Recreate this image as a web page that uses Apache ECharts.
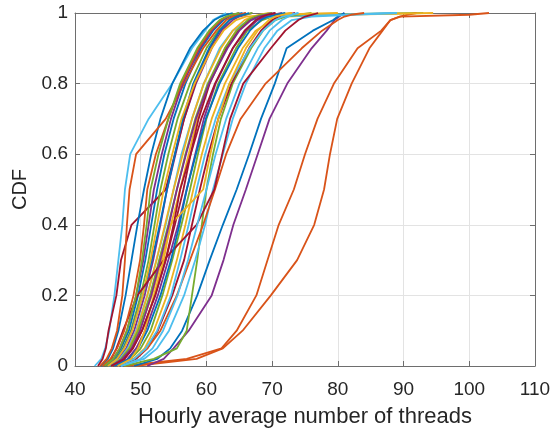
<!DOCTYPE html>
<html><head><meta charset="utf-8">
<script src="https://cdn.jsdelivr.net/npm/echarts@6/dist/echarts.min.js"></script>
<style>html,body{margin:0;padding:0;background:#fff}#c{width:555px;height:433px}</style>
</head><body><div id="c"></div>
<script>
// CDF levels shared by every curve
var levels = [0, 0.02, 0.05, 0.1, 0.2, 0.3, 0.4, 0.5, 0.6, 0.7, 0.8, 0.9, 0.95, 0.98, 0.99, 0.995, 1];
// x values (hourly average number of threads) of each curve at the levels above
var curves = [
  [44.5, 46.0, 47.0, 48.2, 49.6, 50.7, 51.6, 52.5, 53.6, 55.0, 56.8, 59.2, 61.0, 62.6, 63.5, 64.2, 65.5],
  [47.5, 57.0, 62.3, 64.6, 67.6, 69.3, 71.0, 73.3, 75.0, 76.9, 79.4, 83.0, 86.6, 88.0, 89.5, 100.0, 103.0],
  [45.5, 47.2, 48.5, 49.8, 51.7, 53.2, 54.6, 56.0, 57.3, 58.6, 60.4, 62.8, 64.5, 66.5, 68.0, 70.0, 73.0],
  [45.0, 46.5, 47.8, 49.0, 50.6, 51.9, 53.0, 54.0, 55.3, 56.6, 58.4, 60.8, 62.3, 64.0, 65.0, 66.0, 67.0],
  [46.0, 48.5, 50.0, 51.5, 53.3, 54.8, 56.2, 57.5, 58.7, 60.0, 61.8, 64.5, 66.2, 68.5, 70.0, 75.0, 93.0],
  [43.0, 44.0, 44.6, 45.2, 46.0, 46.6, 47.2, 47.6, 48.4, 51.2, 54.8, 57.8, 59.8, 61.0, 62.0, 62.5, 63.0],
  [43.5, 44.2, 44.7, 45.1, 46.3, 47.0, 48.6, 53.8, 55.2, 56.6, 58.3, 60.5, 62.0, 63.5, 64.5, 65.2, 66.0],
  [44.0, 45.0, 45.8, 46.6, 47.7, 48.6, 49.5, 50.5, 51.6, 53.0, 54.8, 57.5, 59.5, 61.2, 62.2, 63.0, 64.0],
  [49.0, 58.5, 62.5, 65.5, 69.8, 73.8, 76.4, 77.9, 78.8, 79.9, 82.1, 84.8, 86.8, 88.0, 89.4, 90.5, 92.0],
  [46.5, 49.0, 50.6, 52.0, 54.0, 55.5, 56.8, 58.0, 59.3, 60.8, 62.8, 65.5, 67.5, 70.0, 72.0, 80.0, 94.5],
  [51.0, 53.5, 55.0, 57.3, 60.8, 62.6, 64.1, 66.0, 67.8, 69.6, 72.3, 76.0, 78.3, 79.5, 80.2, 80.6, 81.0],
  [44.8, 46.2, 47.3, 48.5, 50.0, 51.2, 52.1, 53.0, 54.2, 55.6, 57.5, 60.0, 61.8, 63.5, 64.5, 65.5, 67.0],
  [45.2, 46.8, 48.0, 49.3, 51.0, 52.4, 53.8, 55.0, 56.2, 57.8, 59.6, 62.0, 64.0, 66.5, 70.0, 80.0, 88.5],
  [45.8, 47.5, 48.8, 50.2, 52.2, 53.8, 55.2, 56.5, 57.6, 58.8, 60.5, 63.0, 64.8, 66.5, 67.5, 68.5, 70.0],
  [49.0, 52.5, 54.5, 56.3, 58.6, 60.5, 62.5, 64.6, 66.5, 68.3, 70.4, 72.2, 76.2, 79.3, 80.0, 80.5, 81.0],
  [43.8, 44.8, 45.6, 46.4, 47.2, 47.6, 47.9, 48.3, 49.3, 53.8, 56.6, 59.5, 61.5, 63.0, 64.0, 64.8, 66.0],
  [45.5, 47.0, 48.2, 49.4, 51.0, 52.4, 53.7, 55.0, 56.4, 57.8, 59.6, 62.2, 64.0, 65.8, 67.0, 68.0, 69.5],
  [46.0, 48.0, 49.3, 50.7, 52.6, 54.2, 55.7, 57.0, 58.3, 59.6, 61.4, 64.0, 66.0, 67.8, 69.0, 70.0, 71.5],
  [47.5, 52.0, 55.5, 57.0, 57.8, 58.6, 59.3, 60.0, 61.0, 62.2, 64.0, 66.8, 68.6, 70.5, 72.0, 74.0, 76.0],
  [47.0, 50.5, 52.5, 54.3, 56.6, 58.3, 59.8, 61.0, 62.5, 64.0, 66.0, 68.8, 70.8, 73.0, 76.0, 82.0, 89.0],
  [46.5, 49.3, 51.0, 52.6, 54.8, 56.6, 57.8, 59.0, 60.3, 61.8, 63.8, 66.5, 68.3, 70.0, 71.0, 72.0, 73.5],
  [45.0, 46.3, 47.4, 48.6, 50.3, 51.7, 52.9, 54.0, 55.2, 56.4, 58.0, 60.4, 62.0, 63.5, 64.6, 65.5, 66.5],
  [46.0, 49.0, 51.0, 53.0, 55.5, 57.5, 59.5, 61.3, 63.0, 65.2, 69.0, 74.5, 77.6, 80.0, 81.0, 82.0, 84.0],
  [45.0, 46.4, 47.5, 48.7, 50.3, 51.5, 52.5, 53.5, 54.8, 56.2, 58.2, 60.8, 62.6, 64.5, 66.0, 70.0, 80.0],
  [44.5, 45.8, 46.8, 47.9, 49.3, 50.4, 51.2, 52.0, 53.2, 54.6, 56.4, 59.0, 60.8, 62.3, 63.3, 64.0, 65.0],
  [45.5, 47.0, 48.3, 49.6, 51.4, 52.8, 54.2, 55.5, 56.8, 58.3, 60.2, 62.8, 64.6, 66.3, 67.4, 68.4, 70.0],
  [46.5, 49.0, 50.8, 52.5, 54.6, 56.0, 57.3, 58.5, 59.8, 61.4, 63.5, 66.6, 68.6, 70.5, 71.6, 72.6, 74.0],
  [44.5, 45.5, 46.3, 47.3, 49.5, 53.5, 58.5, 61.2, 62.4, 63.6, 65.6, 69.8, 72.0, 74.0, 75.0, 76.0, 77.0],
  [46.0, 48.2, 49.6, 51.0, 53.0, 54.6, 55.9, 57.0, 58.4, 59.9, 62.0, 64.8, 66.6, 68.3, 69.4, 70.4, 72.0],
  [44.2, 45.4, 46.4, 47.5, 48.9, 49.9, 50.5, 51.0, 52.3, 54.2, 56.2, 58.8, 60.6, 62.2, 63.2, 64.0, 65.0],
  [46.5, 48.5, 49.6, 50.6, 52.0, 53.5, 54.5, 59.5, 60.6, 61.8, 63.5, 66.0, 67.8, 69.5, 70.5, 71.5, 73.0],
  [45.5, 47.2, 48.6, 49.9, 51.6, 53.0, 54.3, 55.5, 56.9, 58.4, 60.4, 63.2, 65.0, 66.8, 68.0, 69.0, 70.5],
  [44.5, 45.8, 46.8, 47.9, 49.3, 50.2, 50.9, 51.5, 52.7, 54.2, 56.0, 58.6, 60.4, 62.0, 63.0, 63.8, 65.0],
  [47.0, 50.0, 51.8, 53.4, 55.6, 57.2, 58.6, 60.0, 61.4, 63.0, 65.0, 67.8, 69.6, 71.5, 72.5, 73.2, 74.0],
  [45.5, 47.5, 48.8, 50.2, 52.2, 53.8, 55.0, 56.0, 57.6, 59.2, 61.3, 64.0, 65.8, 67.5, 68.5, 69.3, 70.5]
];
var colorOrder = ['#0072BD', '#D95319', '#EDB120', '#7E2F8E', '#77AC30', '#4DBEEE', '#A2142F'];
var xTicks = [40, 50, 60, 70, 80, 90, 100, 110];
var yTicks = [0, 0.2, 0.4, 0.6, 0.8, 1];
var xTitle = 'Hourly average number of threads';
var yTitle = 'CDF';

var chart = echarts.init(document.getElementById('c'), null, {renderer: 'canvas'});
var font = "'Liberation Sans', Arial, Helvetica, sans-serif";
var txt = '#262626';
var axisCol = '#6e6e6e';
var series = curves.map(function (q, k) {
  return {
    type: 'line', symbol: 'none', silent: true, animation: false,
    data: q.map(function (x, i) { return [x, levels[i]]; }),
    lineStyle: {width: 1.8, color: colorOrder[k % colorOrder.length]}
  };
});
var baseX = {
  type: 'value', min: xTicks[0], max: xTicks[xTicks.length - 1], interval: 10,
  axisLine: {show: true, onZero: false, lineStyle: {color: axisCol, width: 1}},
  axisTick: {show: true, inside: true, length: 5, lineStyle: {color: axisCol}},
  splitLine: {show: true, lineStyle: {color: '#e3e3e3', width: 1}}
};
var baseY = {
  type: 'value', min: yTicks[0], max: yTicks[yTicks.length - 1], interval: 0.2,
  axisLine: {show: true, onZero: false, lineStyle: {color: axisCol, width: 1}},
  axisTick: {show: true, inside: true, length: 5, lineStyle: {color: axisCol}},
  splitLine: {show: true, lineStyle: {color: '#e3e3e3', width: 1}}
};
chart.setOption({
  backgroundColor: '#fff',
  grid: {left: 75, right: 20, top: 13, bottom: 62, containLabel: false},
  xAxis: [
    Object.assign({}, baseX, {
      position: 'bottom', name: xTitle, nameLocation: 'middle', nameGap: 40,
      nameTextStyle: {fontFamily: font, fontSize: 22, color: txt},
      axisLabel: {fontFamily: font, fontSize: 19, color: txt, margin: 14}
    }),
    Object.assign({}, baseX, {position: 'top', axisLabel: {show: false}, splitLine: {show: false}})
  ],
  yAxis: [
    Object.assign({}, baseY, {
      position: 'left', name: yTitle, nameLocation: 'middle', nameGap: 34,
      nameTextStyle: {fontFamily: font, fontSize: 20, color: txt},
      axisLabel: {fontFamily: font, fontSize: 19, color: txt, margin: 7,
        formatter: function (v) { return String(Math.round(v * 10) / 10); }}
    }),
    Object.assign({}, baseY, {position: 'right', axisLabel: {show: false}, splitLine: {show: false}})
  ],
  series: series
});
</script></body></html>
